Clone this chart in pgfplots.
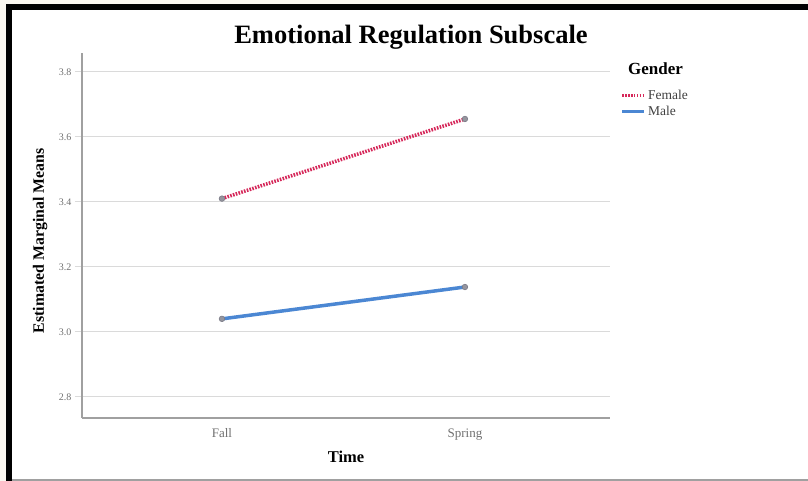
\documentclass[border=0pt]{standalone}
\usepackage{fontspec}
\setmainfont{Liberation Serif}
\usepackage{pgfplots}
\pgfplotsset{compat=1.18}
\definecolor{cream}{HTML}{FAF7F0}
\definecolor{femc}{HTML}{D6285A}
\definecolor{malec}{HTML}{4B87D3}
\definecolor{gridc}{HTML}{DADADA}
\definecolor{axc}{HTML}{A0A0A0}
\definecolor{tickc}{HTML}{707070}
\definecolor{markc}{HTML}{7A7A86}
\begin{document}
\begin{tikzpicture}
\begin{scope}[x=1pt,y=1pt,shift={(-82pt,-63pt)}]
\fill[cream] (0,0) rectangle (808,481);
\fill[white] (12,0) rectangle (808,471);
\fill[black] (6,0) rectangle (12,477);
\fill[black] (6,471) rectangle (808,477);
\fill[axc] (12,0) rectangle (808,1.8);
\node[anchor=center] at (411,444) {\fontsize{26.5}{30}\selectfont\bfseries Emotional Regulation Subscale};
\node[anchor=west, inner sep=0pt] at (628,412) {\fontsize{17}{20}\selectfont\bfseries Gender};
\end{scope}
\begin{axis}[
  anchor=south west,
  scale only axis, width=528pt, height=365pt,
  xmin=-0.576, xmax=1.597, ymin=2.735, ymax=3.858,
  axis x line*=bottom, axis y line*=left,
  axis line style={axc, line width=1.5pt},
  xtick={0,1}, xticklabels={Fall,Spring},
  ytick={2.8,3.0,3.2,3.4,3.6,3.8},
  ymajorgrids, grid style={gridc, line width=1.2pt},
  tick align=outside, major tick length=7pt,
  xtick style={draw=none},
  ytick style={gridc, line width=1.2pt},
  yticklabel style={font=\fontsize{10}{12}\selectfont, text=tickc,
    /pgf/number format/fixed, /pgf/number format/fixed zerofill,
    /pgf/number format/precision=1, /pgf/number format/assume math mode=true},
  xticklabel style={font=\fontsize{13}{15}\selectfont, text=tickc},
  xlabel={\fontsize{16.5}{19}\selectfont\bfseries Time},
  xlabel style={at={(axis description cs:0.5,0)}, anchor=base, yshift=-45pt},
  ylabel={\fontsize{15.8}{18}\selectfont\bfseries Estimated Marginal Means},
  ylabel style={at={(axis description cs:-0.0795,0.485)}, anchor=center},
  legend style={at={(1.0195,0.905)}, anchor=north west, draw=none, fill=none,
    font=\fontsize{13.5}{15}\selectfont, text=darkgray, inner sep=0pt,
    row sep=1.5pt, cells={anchor=west}},
  legend image code/.code={\draw[#1] (0pt,0pt) -- (22pt,0pt);},
  clip=false
]
\addplot[femc, line width=3.5pt, dash pattern=on 1.6pt off 1.3pt,
  mark=*, mark size=2.8pt, mark options={solid, fill=markc!80, draw=markc, line width=0.6pt}]
  coordinates {(0,3.41) (1,3.655)};
\addlegendentry{Female}
\addplot[malec, line width=3.5pt,
  mark=*, mark size=2.8pt, mark options={solid, fill=markc!80, draw=markc, line width=0.6pt}]
  coordinates {(0,3.04) (1,3.138)};
\addlegendentry{Male}
\end{axis}
\end{tikzpicture}
\end{document}
